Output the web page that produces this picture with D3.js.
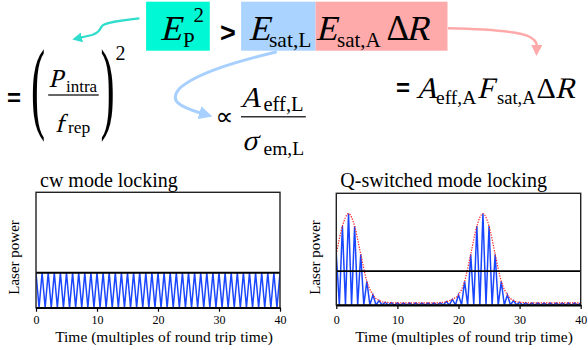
<!DOCTYPE html>
<html><head><meta charset="utf-8">
<script src="https://cdn.jsdelivr.net/npm/d3@7/dist/d3.min.js"></script>
<style>html,body{margin:0;padding:0;background:#fff;}svg{display:block;}</style>
</head><body>
<script>
// ---------- data ----------
const timeTicks = [0, 10, 20, 30, 40];
const avgLevel = 1;            // black horizontal line (average power)
// cw mode locking: one pulse per round trip, t = 0..40
const cwPeaks = [1,1,1,1,1,1,1,1,1,1,1,1,1,1,1,1,1,1,1,1,1,1,1,1,1,1,1,1,1,1,1,1,1,1,1,1,1,1,1,1,1];
// Q-switched mode locking: pulse peak per round trip, t = 0..40
const qsPeaks = [1.5,2.33,2.7,2.33,1.5,0.7,0.3,0.13,0.08,0.07,
                 0.06,0.06,0.06,0.06,0.06,0.06,0.06,0.07,0.1,0.17,
                 0.3,0.7,1.5,2.33,2.7,2.33,1.5,0.7,0.3,0.13,
                 0.08,0.07,0.06,0.06,0.06,0.06,0.06,0.06,0.06,0.06,0.06];
const qsEnvelope = qsPeaks;
const chartTitles = ["cw mode locking", "Q-switched mode locking"];
const xTitle = "Time (multiples of round trip time)";
const yTitle = "Laser power";

const W = 588, H = 350;
const svg = d3.select("body").append("svg").attr("width", W).attr("height", H);
svg.append("rect").attr("width", W).attr("height", H).attr("fill", "#fff");
const serif = "'Liberation Serif','Times New Roman',serif";
const sans = "'Liberation Sans',Arial,sans-serif";

// ---------- charts ----------
function pulseTrain(peaks) {
  const pts = [];
  peaks.forEach((p, k) => {
    pts.push([k, p]);
    if (k < peaks.length - 1) pts.push([k + 0.5, 0]);
  });
  return pts;
}

function drawChart(cfg) {
  const x = d3.scaleLinear().domain([0, 40]).range([cfg.x0, cfg.x1]);
  const y = d3.scaleLinear().domain([0, 3.3]).range([cfg.y0, cfg.y1]);
  const g = svg.append("g");
  const clipId = "clip" + cfg.id;
  svg.append("clipPath").attr("id", clipId).append("rect")
    .attr("x", cfg.x0).attr("y", cfg.y1).attr("width", cfg.x1 - cfg.x0).attr("height", cfg.y0 - cfg.y1);

  const line = d3.line().x(d => x(d[0])).y(d => y(d[1]));
  g.append("path").datum(pulseTrain(cfg.peaks)).attr("d", line)
    .attr("fill", "none").attr("stroke", "#1a46ff").attr("stroke-width", 1.5)
    .attr("clip-path", `url(#${clipId})`);

  if (cfg.envelope) {
    const env = d3.line().x((d, i) => x(i)).y(d => y(d)).curve(d3.curveMonotoneX);
    g.append("path").datum(cfg.envelope).attr("d", env)
      .attr("fill", "none").attr("stroke", "#ff2020").attr("stroke-width", 1.2)
      .attr("stroke-dasharray", "1.3,1.3").attr("clip-path", `url(#${clipId})`);
  }

  g.append("line").attr("x1", cfg.x0).attr("x2", cfg.x1)
    .attr("y1", y(avgLevel)).attr("y2", y(avgLevel))
    .attr("stroke", "#000").attr("stroke-width", 1.8);

  g.append("rect").attr("x", cfg.x0).attr("y", cfg.y1)
    .attr("width", cfg.x1 - cfg.x0).attr("height", cfg.y0 - cfg.y1)
    .attr("fill", "none").attr("stroke", "#222").attr("stroke-width", 1.4);

  const ax = g.append("g").attr("transform", `translate(0,${cfg.y0})`)
    .call(d3.axisBottom(x).tickValues(timeTicks).tickSize(4).tickSizeOuter(0).tickPadding(cfg.pad));
  ax.select(".domain").attr("stroke", "#000").attr("stroke-width", 1.8);
  ax.selectAll(".tick line").attr("stroke", "#000").attr("stroke-width", 1.2);
  ax.selectAll("text").attr("font-family", serif).attr("font-size", 12).attr("fill", "#000");

  g.append("text").attr("x", cfg.x0 + 4).attr("y", 187).text(cfg.title)
    .attr("font-family", serif).attr("font-size", 20).attr("fill", "#000");
  g.append("text").attr("x", cfg.xtx).attr("y", 341.5).attr("text-anchor", "middle").text(xTitle)
    .attr("font-family", serif).attr("font-size", 15.5).attr("fill", "#000");
  g.append("text").attr("transform", `translate(${cfg.ylx},257.5) rotate(-90)`).attr("text-anchor", "middle")
    .text(yTitle).attr("font-family", serif).attr("font-size", 15).attr("fill", "#000");
}

drawChart({id: 1, x0: 36, x1: 280, y0: 307.7, y1: 192.3, peaks: cwPeaks, title: chartTitles[0], xtx: 164, ylx: 18.5, pad: 4});
drawChart({id: 2, x0: 336.3, x1: 580.7, y0: 305, y1: 193.3, peaks: qsPeaks, envelope: qsEnvelope, title: chartTitles[1], xtx: 464, ylx: 319.5, pad: 6.5});

// ---------- formula ----------
const f = svg.append("g");
f.append("rect").attr("x", 146.1).attr("y", 1.7).attr("width", 63.7).attr("height", 49).attr("fill", "#00f8d4");
f.append("rect").attr("x", 241.1).attr("y", 1.7).attr("width", 74.5).attr("height", 49).attr("fill", "#aad4ff");
f.append("rect").attr("x", 315.6).attr("y", 1.7).attr("width", 131.9).attr("height", 49).attr("fill", "#ffaaaa");

// italic is produced by skewing the upright serif face
function t(x, y, s, size, opt = {}) {
  const el = f.append("text").text(s)
    .attr("font-family", opt.sans ? (opt.dejavu ? "'DejaVu Sans',sans-serif" : sans) : serif)
    .attr("font-size", size)
    .attr("font-weight", opt.bold ? "bold" : "normal").attr("fill", "#000");
  if (opt.it) el.attr("transform", `translate(${x},${y}) skewX(-14)`);
  else el.attr("x", x).attr("y", y);
  return el;
}
// top line
t(160, 39.5, "E", 35, {it: true});
t(183, 47, "P", 21);
t(193.5, 21.5, "2", 21);
t(220, 41.5, ">", 27, {sans: true, bold: true});
t(248.5, 39.5, "E", 35, {it: true});
t(269, 47, "sat,L", 21.5);
t(315.5, 39.5, "E", 35, {it: true});
t(337, 47, "sat,A", 21);
t(386.5, 39.5, "\u0394", 35);
t(406, 39.5, "R", 35, {it: true});

// left expression
t(7, 106, "=", 24, {sans: true, bold: true});
t(0, 0, "(", 101).attr("transform", "translate(31,120) scale(0.42,1)");
t(0, 0, ")", 101).attr("transform", "translate(100.5,120) scale(0.42,1)");
t(48.5, 86.7, "P", 26, {it: true});
t(66, 92, "intra", 17);
f.append("line").attr("x1", 48.2).attr("x2", 98.7).attr("y1", 95).attr("y2", 95).attr("stroke", "#333").attr("stroke-width", 1.4);
t(55, 131.7, "f", 26, {it: true});
t(68, 133, "rep", 17.5);
t(115.5, 60, "2", 20);

// middle expression
t(215.5, 124.5, "\u221d", 25, {sans: true, dejavu: true});
t(240, 106.7, "A", 29, {it: true});
t(263.5, 111, "eff,L", 20.5);
f.append("line").attr("x1", 241).attr("x2", 305.8).attr("y1", 116.7).attr("y2", 116.7).attr("stroke", "#333").attr("stroke-width", 1.4);
t(242, 150, "\u03c3", 29, {it: true});
t(263.5, 155, "em,L", 19.5);

// right expression
t(396, 96, "=", 24, {sans: true, bold: true});
t(416, 98.3, "A", 30, {it: true});
t(436, 104, "eff,A", 19.5);
t(477, 98.3, "F", 30, {it: true});
t(497, 104, "sat,A", 18.5);
t(536.5, 98.3, "\u0394", 30);
t(555, 98.3, "R", 30, {it: true});

// arrows
const defs = svg.append("defs");
function marker(id, color) {
  defs.append("marker").attr("id", id).attr("viewBox", "0 0 10 10").attr("refX", 2).attr("refY", 5)
    .attr("markerWidth", 4.5).attr("markerHeight", 4.5).attr("orient", "auto").attr("markerUnits", "strokeWidth")
    .append("path").attr("d", "M0,0L10,5L0,10z").attr("fill", color);
}
marker("mTeal", "#30ddcc"); marker("mBlue", "#a8d0ff"); marker("mPink", "#ffaaaa");
f.append("path").attr("d", "M139.4,18.3 C120,21 106,22 102,26 C99,31 98,33 92,35 L80,37.8")
  .attr("fill", "none").attr("stroke", "#30ddcc").attr("stroke-width", 2.2).attr("marker-end", "url(#mTeal)");
f.append("path").attr("d", "M276.8,51.7 C235,62 197,73 180,88 C168,101 180,107 202,113.5")
  .attr("fill", "none").attr("stroke", "#a8d0ff").attr("stroke-width", 3).attr("marker-end", "url(#mBlue)");
f.append("path").attr("d", "M448,28.3 C485,29 518,31 530,37 C537,41 536.8,44 536.7,47")
  .attr("fill", "none").attr("stroke", "#ffaaaa").attr("stroke-width", 2.5).attr("marker-end", "url(#mPink)");
</script>
</body></html>
